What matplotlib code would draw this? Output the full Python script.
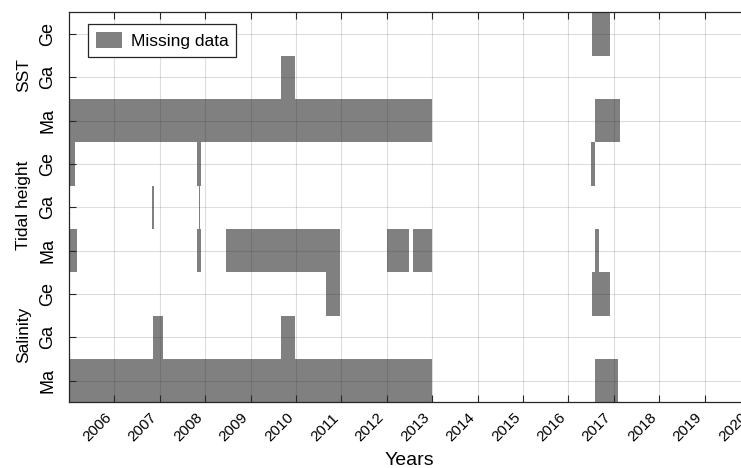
import numpy as np
import matplotlib
matplotlib.use("Agg")
import matplotlib.pyplot as plt
import matplotlib.transforms as mtransforms
from matplotlib.patches import Patch

plt.rcParams['font.family'] = ['Liberation Sans', 'DejaVu Sans']

# rows from bottom to top
row_labels = ["Ma", "Ga", "Ge", "Ma", "Ga", "Ge", "Ma", "Ga", "Ge"]
groups = ["Salinity", "Tidal height", "SST"]
years = list(range(2006, 2021))

# missing-data intervals (start, end) in decimal years, one list per row
sal_ma = [(2005.0, 2013.0), (2016.59, 2017.10)]
sal_ga = [(2006.84, 2007.06), (2009.68, 2009.98)]
sal_ge = [(2010.66, 2010.98), (2016.51, 2016.92)]
tide_ma = [(2005.0, 2005.17), (2007.83, 2007.91), (2008.46, 2010.98),
           (2012.0, 2012.49), (2012.58, 2013.0), (2016.58, 2016.67)]
tide_ga = [(2006.83, 2006.87), (2007.86, 2007.89)]
tide_ge = [(2005.03, 2005.14), (2007.81, 2007.90), (2016.50, 2016.58)]
sst_ma = [(2005.0, 2013.0), (2016.59, 2017.14)]
sst_ga = [(2009.68, 2009.98)]
sst_ge = [(2016.51, 2016.91)]

rows = [sal_ma, sal_ga, sal_ge, tide_ma, tide_ga, tide_ge, sst_ma, sst_ga, sst_ge]

bar_color = "#808080"
axis_color = "#262626"

fig = plt.figure(figsize=(7.41, 4.68), dpi=100)
# axes runs past the right edge, like the cropped original
ax = fig.add_axes([69 / 741, 1 - 402.3 / 468, 681 / 741, 390 / 468])

for i, spans in enumerate(rows):
    ax.broken_barh([(a, b - a) for a, b in spans], (i - 0.5, 1.0),
                   facecolors=bar_color, edgecolor="none", zorder=1)

ax.set_xlim(2005, 2020)
ax.set_ylim(-0.5, 8.5)
ax.set_xticks(years)
ax.set_xticklabels([str(y) for y in years], rotation=45, ha="right", va="top",
                   fontsize=11)
ax.set_yticks(range(len(row_labels)))
ax.set_yticklabels(row_labels, rotation=90, va="center", fontsize=13)

# shift the rotated year labels a bit to the left
offset = mtransforms.ScaledTranslation(-0.09, 0, fig.dpi_scale_trans)
for lab in ax.get_xticklabels():
    lab.set_transform(lab.get_transform() + offset)

ax.tick_params(axis="x", direction="in", length=5, width=0.8, color=axis_color,
               top=True, pad=6, labelcolor="black")
ax.tick_params(axis="y", direction="in", length=5, width=0.8, color=axis_color,
               right=True, pad=9, labelcolor="black")
for s in ax.spines.values():
    s.set_color(axis_color)
    s.set_linewidth(0.9)

ax.set_axisbelow(False)
ax.grid(True, color=axis_color, alpha=0.15, linewidth=0.8)

ax.set_xlabel("Years", fontsize=14, va="center")
ax.xaxis.set_label_coords(0.5, -0.148)

# group labels on the left
for k, g in enumerate(groups):
    ax.text(-45 / 681, (3 * k + 1 + 0.55) / 9, g, rotation=90, ha="center",
            va="center", fontsize=12.5, transform=ax.transAxes)

leg = ax.legend([Patch(facecolor=bar_color, edgecolor="none")], ["Missing data"],
                loc="upper left", bbox_to_anchor=(0.0283, 0.969), fontsize=12.5,
                fancybox=False, framealpha=1, edgecolor=axis_color,
                borderaxespad=0, borderpad=0.45, handlelength=1.5,
                handleheight=1.05, handletextpad=0.5)
leg.get_frame().set_linewidth(0.9)

plt.savefig("out.png", dpi=100)
